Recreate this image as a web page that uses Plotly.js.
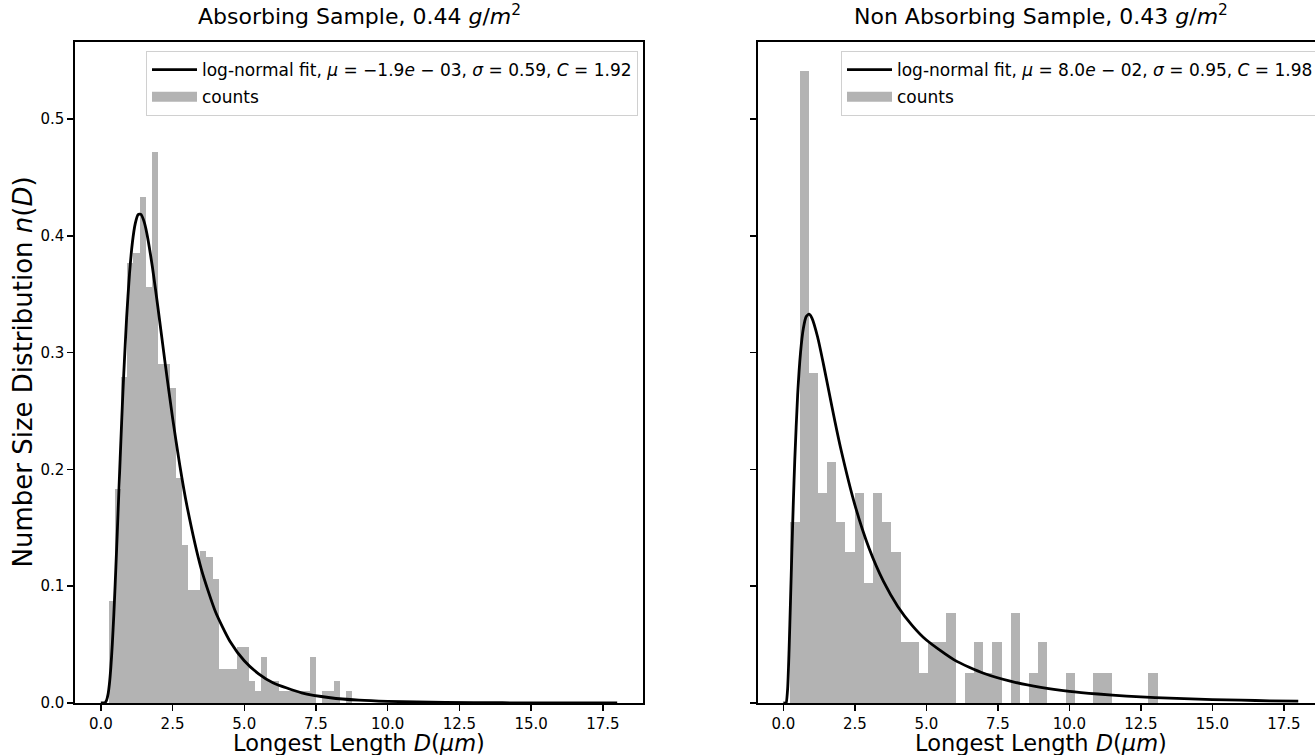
<!DOCTYPE html>
<html>
<head>
<meta charset="utf-8">
<script src="https://cdn.plot.ly/plotly-3.0.1.min.js"></script>
<style>
html,body{margin:0;padding:0;background:#fff;overflow:hidden;}
#chart{width:1340px;height:755px;}
</style>
</head>
<body>
<div id="chart"></div>
<script>
// ---------- DATA ----------
// Absorbing sample histogram (density per bin)
const absBinStart = 0.29;
const absBinWidth = 0.212;
const absDensity = [0.087, 0.183, 0.279, 0.377, 0.385, 0.433, 0.356, 0.472, 0.290, 0.290,
                    0.270, 0.193, 0.135, 0.097, 0.097, 0.130, 0.125, 0.106, 0.029, 0.029,
                    0.029, 0.048, 0.048, 0.019, 0.010, 0.039, 0.019, 0.019, 0.010, 0.010,
                    0.010, 0.010, 0.010, 0.039, 0.000, 0.010, 0.010, 0.019, 0.000, 0.010];
// Absorbing sample log-normal fit curve
const absFitX = [0, 0.1, 0.15, 0.2, 0.25, 0.3, 0.35, 0.4, 0.45, 0.5, 0.55, 0.6, 0.65, 0.7, 0.75, 0.8, 0.9,
                 1.0, 1.1, 1.2, 1.3, 1.4, 1.5, 1.6, 1.8, 2.0, 2.25, 2.5, 2.75, 3.0, 3.5, 4.0, 4.5,
                 5.0, 5.5, 6.0, 7.0, 8.0, 9.0, 10, 12, 14, 16, 18];
const absFitY = [0, 0.00003, 0.0004, 0.0023, 0.0072, 0.0164, 0.0307, 0.0502, 0.0740, 0.1015, 0.1314, 0.1625, 0.1941, 0.2249, 0.2545, 0.2821, 0.3302,
                 0.3676, 0.3941, 0.4105, 0.4182, 0.4184, 0.4128, 0.4027, 0.3731, 0.3369, 0.2895, 0.2444, 0.2040, 0.1691, 0.1149, 0.0779, 0.0529,
                 0.0362, 0.0250, 0.0174, 0.0087, 0.0045, 0.0024, 0.0014, 0.0005, 0.0002, 0.0001, 0.00003];
const absLabel = 'log-normal fit, <i>μ</i> = −1.9<i>e</i> − 03, <i>σ</i> = 0.59, <i>C</i> = 1.92';

// Non absorbing sample histogram (density per bin)
const nonBinStart = 0.245;
const nonBinWidth = 0.321;
const nonDensity = [0.155, 0.541, 0.283, 0.180, 0.206, 0.155, 0.129, 0.180, 0.103, 0.180,
                    0.155, 0.129, 0.052, 0.052, 0.026, 0.052, 0.052, 0.077, 0.000, 0.026,
                    0.052, 0.026, 0.052, 0.000, 0.077, 0.000, 0.026, 0.052, 0.000, 0.000,
                    0.026, 0.000, 0.000, 0.026, 0.026, 0.000, 0.000, 0.000, 0.000, 0.026];
// Non absorbing sample log-normal fit curve
const nonFitX = [0, 0.08, 0.1, 0.15, 0.2, 0.25, 0.3, 0.35, 0.4, 0.5, 0.6, 0.7, 0.8, 0.9, 1.0, 1.2, 1.4, 1.6, 1.8, 2.0,
                 2.5, 3.0, 3.5, 4.0, 4.5, 5.0, 6, 7, 8, 9, 10, 11, 12, 13, 14, 15, 16, 17, 18];
const nonFitY = [0, 0, 0.0002, 0.0123, 0.0450, 0.0876, 0.1316, 0.1725, 0.2084, 0.2639, 0.2999, 0.3209, 0.3309, 0.3329, 0.3296, 0.3132, 0.2904, 0.2658, 0.2415, 0.2186,
                 0.1697, 0.1323, 0.1041, 0.0827, 0.0665, 0.0539, 0.0365, 0.0255, 0.0183, 0.0134, 0.0100, 0.0077, 0.0059, 0.0046, 0.0037, 0.0029, 0.0024, 0.0019, 0.0016];
const nonLabel = 'log-normal fit, <i>μ</i> = 8.0<i>e</i> − 02, <i>σ</i> = 0.95, <i>C</i> = 1.98';

const countsLabel = 'counts';
const xTicks = [0, 2.5, 5, 7.5, 10, 12.5, 15, 17.5];
const yTicks = [0, 0.1, 0.2, 0.3, 0.4, 0.5];
const titles = ['Absorbing Sample, 0.44 <i>g</i>/<i>m</i><sup>2</sup>', 'Non Absorbing Sample, 0.43 <i>g</i>/<i>m</i><sup>2</sup>'];
const xTitle = 'Longest Length <i>D</i>(<i>μm</i>)';
const yTitle = 'Number Size Distribution <i>n</i>(<i>D</i>)';

// ---------- BUILD ----------
const W = 1340, H = 755;
function centers(start, width, n){ const c=[]; for(let i=0;i<n;i++) c.push(start + width*(i+0.5)); return c; }
const FONT = 'DejaVu Sans, sans-serif';
const barColor = '#b3b3b3';

function panelTraces(fx, fy, label, bStart, bWidth, dens, xa, ya, lg){
  return [
    {type:'bar', x:centers(bStart, bWidth, dens.length), y:dens, width:bWidth, showlegend:false,
     xaxis:xa, yaxis:ya, marker:{color:barColor, line:{width:0}}, hoverinfo:'skip'},
    {type:'scatter', mode:'lines', x:fx, y:fy, name:label, xaxis:xa, yaxis:ya,
     line:{color:'#000', width:2.8, shape:'spline', smoothing:0.6}, legend:lg, legendgroup:lg+'a', hoverinfo:'skip'},
    // legend proxy for the histogram patch (no data drawn)
    {type:'scatter', mode:'lines', x:[null], y:[null], name:countsLabel, xaxis:xa, yaxis:ya,
     line:{color:barColor, width:13}, legend:lg, legendgroup:lg+'b', hoverinfo:'skip'}
  ];
}
const traces = [].concat(
  panelTraces(absFitX, absFitY, absLabel, absBinStart, absBinWidth, absDensity, 'x', 'y', 'legend'),
  panelTraces(nonFitX, nonFitY, nonLabel, nonBinStart, nonBinWidth, nonDensity, 'x2', 'y2', 'legend2')
);

const yDom = [(H-703)/H, (H-42)/H];
function xAxis(dom, anchor){
  return {domain:dom, anchor:anchor, range:[-0.9, 18.9], tickvals:xTicks, tickformat:'.1f',
    ticks:'outside', ticklen:6, tickwidth:1.5, tickcolor:'#000', showline:true, linecolor:'#000', linewidth:1.6,
    mirror:true, showgrid:false, zeroline:false, tickfont:{family:FONT, size:15, color:'#000'}, fixedrange:true};
}
function yAxis(anchor, labels){
  return {domain:yDom, anchor:anchor, range:[0, 0.566], tickvals:yTicks, tickformat:'.1f', showticklabels:labels,
    ticks:'outside', ticklen:6, tickwidth:1.5, tickcolor:'#000', showline:true, linecolor:'#000', linewidth:1.6,
    mirror:true, showgrid:false, zeroline:false, tickfont:{family:FONT, size:15, color:'#000'}, fixedrange:true};
}
const leftDom = [75/W, 643/W];
const rightDom = [757.6/W, 1324/W];

function legendCfg(xRightPx){
  return {x:xRightPx/W, xanchor:'right', y:(H-51)/H, yanchor:'top', bgcolor:'rgba(255,255,255,0.85)',
    bordercolor:'#d0d0d0', borderwidth:1, font:{family:FONT, size:17, color:'#000'}, traceorder:'grouped',
    tracegroupgap:2, itemwidth:45, itemclick:false, itemdoubleclick:false};
}

const annotations = [
  {text:titles[0], x:(leftDom[0]+leftDom[1])/2, y:(H-15)/H, xref:'paper', yref:'paper', showarrow:false, xanchor:'center', yanchor:'middle', font:{family:FONT, size:22, color:'#000'}},
  {text:titles[1], x:(rightDom[0]+rightDom[1])/2, y:(H-15)/H, xref:'paper', yref:'paper', showarrow:false, xanchor:'center', yanchor:'middle', font:{family:FONT, size:22, color:'#000'}},
  {text:xTitle, x:(leftDom[0]+leftDom[1])/2, y:(H-743)/H, xref:'paper', yref:'paper', showarrow:false, xanchor:'center', yanchor:'middle', font:{family:FONT, size:22.5, color:'#000'}},
  {text:xTitle, x:(rightDom[0]+rightDom[1])/2, y:(H-743)/H, xref:'paper', yref:'paper', showarrow:false, xanchor:'center', yanchor:'middle', font:{family:FONT, size:22.5, color:'#000'}},
  {text:yTitle, x:22/W, y:(yDom[0]+yDom[1])/2, xref:'paper', yref:'paper', showarrow:false, xanchor:'center', yanchor:'middle', textangle:-90, font:{family:FONT, size:26, color:'#000'}}
];

const layout = {
  width:W, height:H, margin:{l:0, r:0, t:0, b:0}, paper_bgcolor:'#fff', plot_bgcolor:'#fff',
  bargap:0, barmode:'overlay', showlegend:true,
  xaxis:xAxis(leftDom, 'y'), yaxis:yAxis('x', true),
  xaxis2:xAxis(rightDom, 'y2'), yaxis2:yAxis('x2', false),
  legend:legendCfg(638), legend2:legendCfg(1319),
  annotations:annotations, font:{family:FONT, color:'#000'}
};

Plotly.newPlot('chart', traces, layout, {staticPlot:true, displayModeBar:false});
</script>
</body>
</html>
